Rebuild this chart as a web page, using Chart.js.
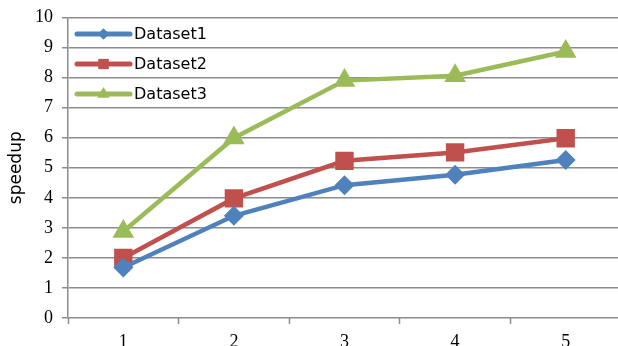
<!DOCTYPE html>
<html lang="en">
  <head>
    <meta charset="UTF-8" />
    <title>speedup</title>
    <style>
      html, body { margin: 0; padding: 0; overflow: hidden; background: #fff; }
      .chart-box { width: 621px; height: 360px; }
    </style>
  </head>
  <body>
    <div class="chart-box">
      <canvas id="myChart"></canvas>
    </div>

    <script src="https://cdn.jsdelivr.net/npm/chart.js"></script>

    <script>
      const labels = ["1", "2", "3", "4", "5"];
      const dataset1 = [1.68, 3.4, 4.42, 4.77, 5.26];
      const dataset2 = [2.0, 3.98, 5.23, 5.51, 5.98];
      const dataset3 = [2.88, 5.99, 7.9, 8.06, 8.87];
      const seriesNames = ["Dataset1", "Dataset2", "Dataset3"];

      const blue = "#4f81bd";
      const red = "#c0504d";
      const green = "#9bbb59";
      const gridColor = "#8c8c8c";

      // legend drawn inside the plot, top left, line sample with a marker
      const insideLegend = {
        id: "insideLegend",
        afterDraw(chart) {
          const ctx = chart.ctx;
          const area = chart.chartArea;
          chart.data.datasets.forEach((ds, i) => {
            const y = area.top + 16.5 + i * 30;
            const x0 = area.left + 9;
            const x1 = area.left + 62;
            ctx.save();
            ctx.strokeStyle = ds.borderColor;
            ctx.lineWidth = 5;
            ctx.lineCap = "round";
            ctx.beginPath();
            ctx.moveTo(x0, y);
            ctx.lineTo(x1, y);
            ctx.stroke();
            ctx.fillStyle = ds.borderColor;
            Chart.helpers.drawPoint(ctx, {
              pointStyle: ds.pointStyle,
              radius: ds.pointRadius * 0.55,
              borderWidth: 0,
              rotation: 0,
            }, (x0 + x1) / 2, y);
            ctx.fill();
            ctx.fillStyle = "#000";
            ctx.font = "16px 'DejaVu Sans'";
            ctx.textBaseline = "middle";
            ctx.fillText(ds.label, x1 + 4, y + 1);
            ctx.restore();
          });
        },
      };

      const ctx1 = document.getElementById("myChart");

      const chart1 = new Chart(ctx1, {
        type: "line",
        data: {
          labels: labels,
          datasets: [
            {
              label: seriesNames[0],
              data: dataset1,
              borderColor: blue,
              backgroundColor: blue,
              pointStyle: "rectRot",
              pointRadius: 10,
            },
            {
              label: seriesNames[1],
              data: dataset2,
              borderColor: red,
              backgroundColor: red,
              pointStyle: "rect",
              pointRadius: 13,
            },
            {
              label: seriesNames[2],
              data: dataset3,
              borderColor: green,
              backgroundColor: green,
              pointStyle: "triangle",
              pointRadius: 12.5,
            },
          ],
        },
        options: {
          responsive: true,
          maintainAspectRatio: false,
          animation: false,
          events: [],
          layout: {
            autoPadding: false,
            padding: { top: 17.5, left: 0, right: 0, bottom: 0 },
          },
          elements: {
            line: { borderWidth: 4.5, tension: 0 },
            point: { borderWidth: 0, hoverRadius: 0 },
          },
          plugins: {
            legend: { display: false },
            tooltip: { enabled: false },
          },
          scales: {
            x: {
              offset: true,
              afterFit(scale) {
                scale.height = 42;
                scale.paddingLeft = 0;
                scale.paddingRight = 0;
              },
              grid: {
                offset: true,
                drawOnChartArea: false,
                tickLength: 6,
                tickWidth: 1.5,
                tickColor: gridColor,
              },
              border: { display: false },
              ticks: {
                color: "#000",
                padding: 7,
                font: { family: "'Liberation Serif'", size: 18 },
              },
            },
            y: {
              min: 0,
              max: 10,
              afterFit(scale) {
                scale.width = 68;
                scale.paddingTop = 0;
                scale.paddingBottom = 0;
              },
              grid: {
                color: gridColor,
                lineWidth: 1.5,
                tickLength: 6,
              },
              border: { color: gridColor, width: 1.5 },
              ticks: {
                stepSize: 1,
                color: "#000",
                padding: 9,
                font: { family: "'Liberation Serif'", size: 18 },
              },
              title: {
                display: true,
                text: "speedup",
                color: "#000",
                padding: { top: 6, bottom: 0 },
                font: { family: "'DejaVu Sans'", size: 17 },
              },
            },
          },
        },
        plugins: [insideLegend],
      });
    </script>
  </body>
</html>
